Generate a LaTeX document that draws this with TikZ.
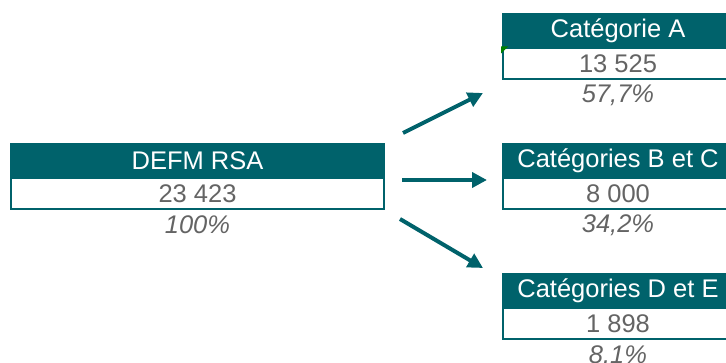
\documentclass[tikz,border=0pt]{standalone}
\usepackage{fontspec}
\setmainfont{Liberation Sans}
\usetikzlibrary{arrows.meta}
\definecolor{teal1}{RGB}{0,98,107}
\definecolor{txtgrey}{RGB}{100,100,100}
\tikzset{
  hdr/.style={fill=teal1, draw=none, text=white, inner sep=0pt, minimum height=35pt, font=\fontsize{25.5}{29}\selectfont},
  cell/.style={fill=white, draw=teal1, line width=2pt, text=txtgrey, inner sep=0pt, minimum height=31pt, font=\fontsize{25.5}{29}\selectfont},
  pct/.style={text=txtgrey, inner sep=0pt, font=\fontsize{25.5}{29}\selectfont\itshape},
  arr/.style={draw=teal1, line width=4pt, -{Triangle[length=15pt,width=15pt]}}
}
\begin{document}
\begin{tikzpicture}[x=1pt,y=-1pt]
\useasboundingbox (0,0) rectangle (726,363);
% left box
\node[hdr, minimum width=375pt] (h0) at (197.5,161) {DEFM RSA};
\node[cell, minimum width=373pt] (c0) at (197.5,194) {23 423};
\node[pct] (p0) at (197.5,225) {100\%};
% box A
\node[hdr, minimum width=232pt] (hA) at (618,30.5) {Catégorie A};
\node[cell, minimum width=230pt] (cA) at (618,64) {13 525};
\node[pct] (pA) at (618,95) {57,7\%};
\fill[green!50!black] (cA.north west) ++(-1,-1) -- ++(7,0) -- ++(-7,7) -- cycle;
% box B
\node[hdr, minimum width=232pt] (hB) at (618,161) {Catégories B et C};
\node[cell, minimum width=230pt] (cB) at (618,194) {8 000};
\node[pct] (pB) at (618,225) {34,2\%};
% box D
\node[hdr, minimum width=232pt] (hD) at (618,291) {Catégories D et E};
\node[cell, minimum width=230pt] (cD) at (618,324) {1 898};
\node[pct] (pD) at (618,355) {8.1\%};
% arrows
\coordinate (s1) at (403,133);
\coordinate (e1) at (483,93);
\coordinate (s2) at (402,180);
\coordinate (e2) at (487,180);
\coordinate (s3) at (400,219);
\coordinate (e3) at (483,268);
\draw[arr] (s1) -- (e1);
\draw[arr] (s2) -- (e2);
\draw[arr] (s3) -- (e3);
\end{tikzpicture}
\end{document}
